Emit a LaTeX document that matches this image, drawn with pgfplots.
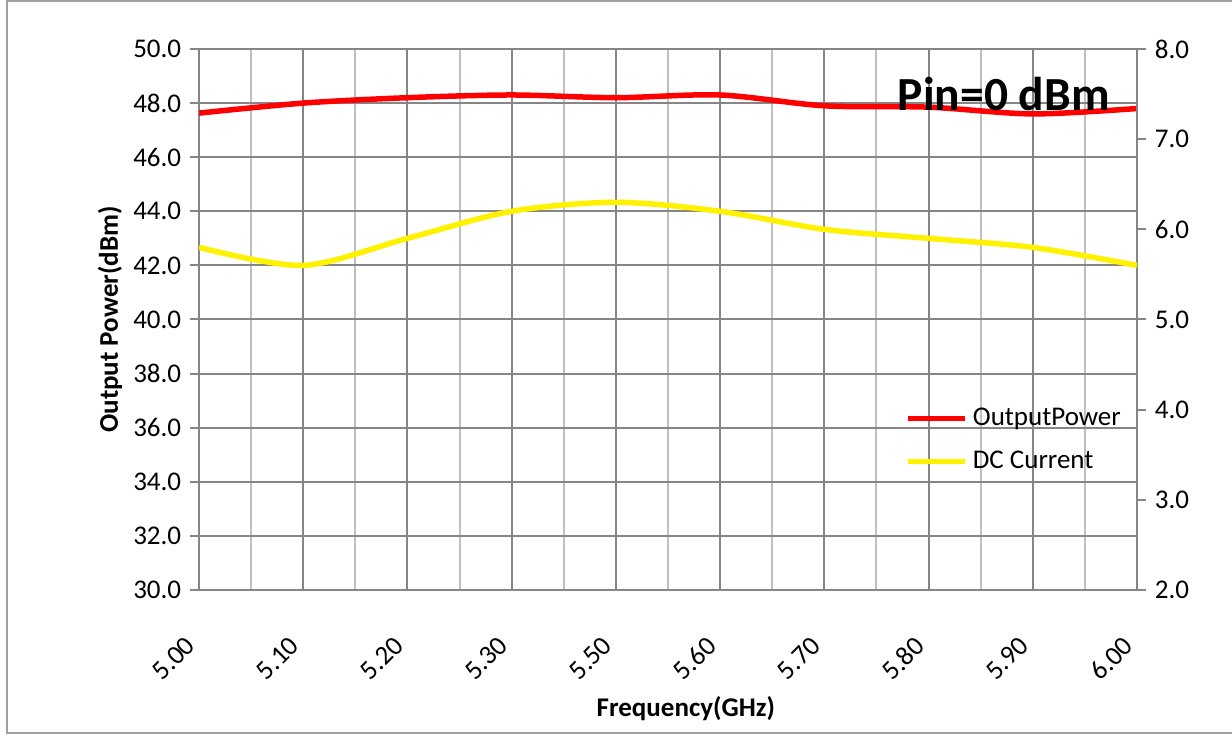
\documentclass[border=0pt]{standalone}
\usepackage{fontspec}
\setmainfont{Carlito}
\usepackage{pgfplots}
\pgfplotsset{compat=1.18}
\definecolor{gridmaj}{RGB}{134,134,134}
\definecolor{gridmin}{RGB}{191,191,191}
\definecolor{framecol}{RGB}{160,160,160}

\pgfplotsset{
  common/.style={
    scale only axis,
    width=375.2pt, height=216.4pt,
    at={(79.6pt,58pt)}, anchor=south west,
    xmin=0, xmax=9,
    tick align=outside,
    major tick length=3.6pt,
    axis line style={gridmaj, line width=0.8pt},
    ytick style={gridmaj, line width=0.8pt},
    tick label style={font=\fontsize{10.8}{13}\selectfont},
    /pgf/number format/assume math mode=true,
    yticklabel style={/pgf/number format/.cd, fixed, fixed zerofill, precision=1},
  }
}

\begin{document}
\begin{tikzpicture}
\useasboundingbox (0pt,0pt) rectangle (492.8pt,294pt);
\draw[framecol, line width=0.8pt] (2.8pt,0.8pt) rectangle (493.5pt,293.6pt);

% left axis: output power
\begin{axis}[
  common,
  ymin=30, ymax=50,
  ytick={30,32,...,50},
  ytick pos=left,
  xtick={0,...,9},
  xticklabels={5.00,5.10,5.20,5.30,5.50,5.60,5.70,5.80,5.90,6.00},
  xticklabel style={xshift=-1pt, yshift=-14.5pt, rotate=45, anchor=east},
  xtick style={draw=none},
  minor x tick num=1,
  minor tick length=0pt,
  grid=both,
  major grid style={gridmaj, line width=0.8pt},
  minor grid style={gridmin, line width=0.8pt},
  xlabel={\bfseries Frequency(GHz)},
  xlabel style={at={(axis description cs:0.519,-0.22)}, anchor=center, font=\fontsize{10.8}{13}\selectfont},
  ylabel={\bfseries Output Power(dBm)},
  ylabel style={at={(axis description cs:-0.095,0.5)}, anchor=center, font=\fontsize{10.8}{13}\selectfont},
]
\addplot[red, line width=2.2pt, smooth, tension=0.5] coordinates {
  (0,47.63) (1,48.0) (2,48.2) (3,48.3) (4,48.2)
  (5,48.3) (6,47.9) (7,47.85) (8,47.6) (9,47.8)
};
\end{axis}

% right axis: DC current
\begin{axis}[
  common,
  axis x line=none,
  axis y line*=right,
  ymin=2, ymax=8,
  ytick={2,...,8},
  legend style={draw=none, fill=none, at={(axis description cs:0.744,0.356)}, anchor=north west,
    font=\fontsize{10.8}{13}\selectfont, row sep=4.6pt},
  legend cell align=left,
  legend image code/.code={\draw[#1] (0pt,0pt) -- (23pt,0pt);},
]
\addlegendimage{red, line width=2.2pt}
\addlegendentry{OutputPower}
\addplot[yellow, line width=2.2pt, smooth, tension=0.5] coordinates {
  (0,5.8) (1,5.6) (2,5.9) (3,6.2) (4,6.3)
  (5,6.2) (6,6.0) (7,5.9) (8,5.8) (9,5.6)
};
\addlegendentry{DC Current}
\node[font=\fontsize{19}{22}\bfseries] at (axis description cs:0.858,0.917) {Pin=0 dBm};
\end{axis}
\end{tikzpicture}
\end{document}
